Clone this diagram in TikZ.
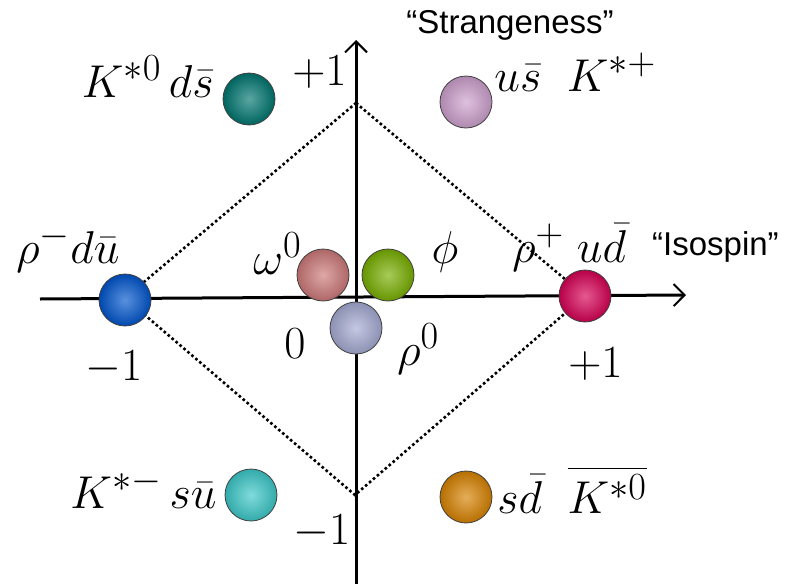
\documentclass[tikz,border=0pt]{standalone}
\usepackage{amsmath}
\usepackage{fontspec}
\newfontfamily\axisfont{Liberation Sans}
\usetikzlibrary{arrows.meta,positioning}

\definecolor{tealball}{RGB}{0,118,112}
\definecolor{lilacball}{RGB}{205,160,205}
\definecolor{blueball}{RGB}{0,85,205}
\definecolor{roseball}{RGB}{205,120,120}
\definecolor{greenball}{RGB}{120,175,0}
\definecolor{lavball}{RGB}{165,170,210}
\definecolor{redball}{RGB}{215,0,85}
\definecolor{cyanball}{RGB}{60,200,200}
\definecolor{orangeball}{RGB}{215,130,0}

\begin{document}
\begin{tikzpicture}[x=1pt, y=-1pt,
  ball/.style={circle, draw=black!75, line width=0.8pt, minimum size=52pt, inner sep=0pt,
    inner color=#1!65!white, outer color=#1!85!black},
  lbl/.style={inner sep=0pt, font=\Huge, scale=1.85},
  axlbl/.style={inner sep=0pt, font=\axisfont\fontsize{33}{38}\selectfont},
  axis/.style={line width=3pt, -{Straight Barb[length=11pt, width=22pt, line width=2pt]}},
  ring/.style={line width=2.6pt, dash pattern=on 2.6pt off 2.6pt}
]
  \useasboundingbox (0,0) rectangle (807,584);

  % corners of the octet
  \coordinate (top) at (356,103);
  \coordinate (lft) at (125,298);
  \coordinate (rgt) at (585,296);
  \coordinate (bot) at (355,495);
  \draw[ring] (top) -- (rgt) -- (bot) -- (lft) -- cycle;

  % axes
  \coordinate (xstart) at (40,299);
  \coordinate (xend) at (686,295);
  \coordinate (ystart) at (356,584);
  \coordinate (yend) at (356,40);
  \draw[axis] (xstart) -- (xend);
  \draw[axis] (ystart) -- (yend);

  % mesons
  \node[ball=tealball] (kzero) at (249,99) {};
  \node[ball=lilacball] (kplus) at (466,102) {};
  \node[ball=blueball] (rhominus) at (125,300) {};
  \node[ball=roseball] (omega) at (323,275) {};
  \node[ball=greenball] (phi) at (388,275) {};
  \node[ball=lavball] (rhozero) at (356,328) {};
  \node[ball=redball] (rhoplus) at (585,296) {};
  \node[ball=cyanball] (kminus) at (251,495) {};
  \node[ball=orangeball] (kzerobar) at (466,497) {};

  % names
  \node[lbl, anchor=base east] (kzerotxt) at (214,97) {$K^{*0}\, d\bar{s}$};
  \node[lbl, anchor=base west] (kplustxt) at (494,91) {$u\bar{s}\;\; K^{*+}$};
  \node[lbl, anchor=base west] (rhominustxt) at (16,263) {$\rho^{-}d\bar{u}$};
  \node[lbl, anchor=base east] (omegatxt) at (302,274) {$\omega^{0}$};
  \node[lbl, anchor=base] (phitxt) at (445,263) {$\phi$};
  \node[lbl, anchor=base west] (rhoplustxt) at (512,262) {$\rho^{+}\; u\bar{d}$};
  \node[lbl, anchor=base west] (rhozerotxt) at (397,365) {$\rho^{0}$};
  \node[lbl, anchor=base west] (kminustxt) at (70,508) {$K^{*-}\, s\bar{u}$};
  \node[lbl, anchor=base west] (kzerobartxt) at (497,513) {$s\bar{d}\;\; \overline{K^{*0}}$};

  % ticks
  \node[lbl, anchor=base east] (ytop) at (347,85) {$+1$};
  \node[lbl, anchor=base west] (ybot) at (293,544) {$-1$};
  \node[lbl, anchor=base west] (xleft) at (85,380) {$-1$};
  \node[lbl, anchor=base west] (xright) at (568,377) {$+1$};
  \node[lbl, anchor=base west] (origin) at (284,358) {$0$};

  \node[axlbl, anchor=base] (strange) at (510,33) {“Strangeness”};
  \node[axlbl, anchor=base west] (isospin) at (652,255) {“Isospin”};
\end{tikzpicture}
\end{document}
